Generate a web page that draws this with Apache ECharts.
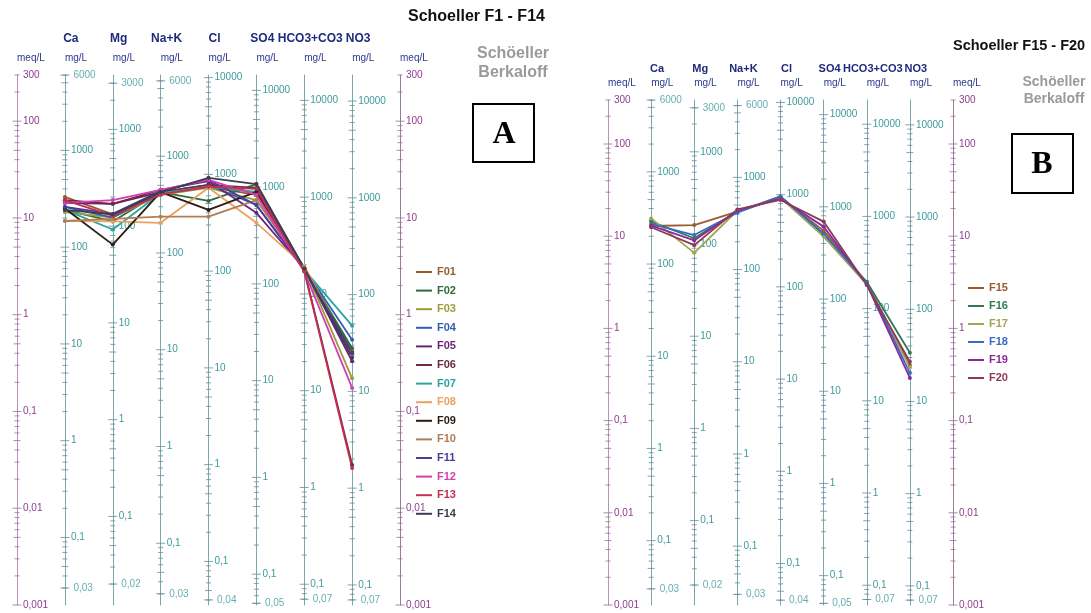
<!DOCTYPE html>
<html><head><meta charset="utf-8">
<script src="https://cdn.jsdelivr.net/npm/echarts@6/dist/echarts.min.js"></script>
<style>html,body{margin:0;padding:0;background:#fff}#c{width:1091px;height:613px}</style>
</head><body><div id="c"></div>
<script>
// ---------- data ----------
const components = ['Ca', 'Mg', 'Na+K', 'Cl', 'SO4', 'HCO3+CO3', 'NO3'];
const eqWeights = [20.04, 12.15, 23.0, 35.45, 48.03, 61.02, 62.0];   // mg per meq
const mgTopLabels = [6000, 3000, 6000, null, null, null, null];
const mgBottomLabels = [0.03, 0.02, 0.03, 0.04, 0.05, 0.07, 0.07];
const meqRange = [0.001, 300];

// values in meq/L, order: Ca, Mg, Na+K, Cl, SO4, HCO3+CO3, NO3
const samplesA = ['F01','F02','F03','F04','F05','F06','F07','F08','F09','F10','F11','F12','F13','F14'];
const F01 = [16.5, 10.9, 17.3, 21.0, 17.3, 3.0, 0.42];
const F02 = [12.1, 9.2, 18.5, 15.0, 22.4, 3.0, 0.45];
const F03 = [11.5, 10.1, 17.3, 20.5, 15.3, 3.1, 0.22];
const F04 = [13.0, 10.1, 18.5, 22.0, 13.6, 3.0, 0.55];
const F05 = [14.3, 14.0, 19.5, 24.0, 11.3, 3.0, 0.33];
const F06 = [15.3, 14.0, 18.5, 22.0, 20.4, 2.9, 0.028];
const F07 = [12.1, 7.6, 18.0, 21.0, 18.6, 2.9, 0.77];
const F08 = [9.3, 9.2, 8.9, 20.5, 8.9, 3.2, 0.38];
const F09 = [12.5, 5.3, 18.5, 12.1, 18.6, 3.0, 0.40];
const F10 = [9.3, 9.8, 10.3, 10.3, 15.3, 3.1, 0.38];
const F11 = [13.0, 11.0, 19.0, 24.7, 13.6, 2.9, 0.40];
const F12 = [14.3, 15.3, 19.5, 24.7, 17.3, 2.8, 0.175];
const F13 = [15.3, 10.5, 17.5, 21.0, 20.0, 2.8, 0.026];
const F14 = [12.1, 10.9, 18.5, 26.0, 22.4, 3.0, 0.36];
const valuesA = [F01, F02, F03, F04, F05, F06, F07, F08, F09, F10, F11, F12, F13, F14];

const samplesB = ['F15','F16','F17','F18','F19','F20'];
const F15 = [12.9, 13.2, 18.5, 26.0, 11.5, 3.1, 0.40];
const F16 = [14.4, 9.5, 18.5, 27.0, 10.5, 3.2, 0.545];
const F17 = [15.6, 6.6, 19.0, 26.0, 9.9, 3.0, 0.38];
const F18 = [13.6, 10.3, 18.0, 27.0, 10.7, 3.1, 0.33];
const F19 = [13.0, 9.0, 19.0, 25.5, 12.7, 3.0, 0.29];
const F20 = [12.5, 8.0, 19.5, 24.7, 14.4, 2.95, 0.435];
const valuesB = [F15, F16, F17, F18, F19, F20];

// ---------- styles ----------
const colorsA = ['#9a5b2e','#2f6b3f','#9c9c3c','#2f5fb3','#6c237c','#6e2c3c','#2aa3a3','#eba25f','#2b1d14','#b37c52','#4b3b9b','#d23fb0','#c22f52','#3c3c52'];
const colorsB = ['#9a5b2e','#2f7a4f','#a3a352','#3a6ac4','#8a2a9a','#8a3a5a'];
const FONT = '"Liberation Sans", Arial, Helvetica, sans-serif';
const MEQ_LABEL = '#8e3d8e', MEQ_LINE = '#b893b8', MEQ_TICK = '#957295';
const MG_LABEL = '#3d9a9c', MG_LINE = '#7ea7ad', MG_TICK = '#628e95';
const NAVY = '#1f2a7c';

function fmt(v) { return String(+(+v).toPrecision(6)).replace('.', ','); }

const option = { animation: false, backgroundColor: '#fff', grid: [], xAxis: [], yAxis: [], series: [], legend: [], graphic: [] };

function tickData(col, lo, hi) {
  const out = [];
  for (let k = Math.floor(Math.log10(lo)); k <= Math.ceil(Math.log10(hi)); k++) {
    for (let m = 1; m <= 9; m++) {
      const v = +(m * Math.pow(10, k)).toPrecision(6);
      if (v >= lo * 0.999 && v <= hi * 1.001) {
        out.push({ value: [col, v], symbolSize: m === 1 ? [9, 1] : (m === 5 ? [7, 1] : [5, 1]) });
      }
    }
  }
  return out;
}

function buildPanel(p) {
  const g = option.grid.length;
  option.grid.push({ left: p.left, top: p.top, width: p.width, height: p.height, containLabel: false, outerBoundsMode: 'none' });
  const x0 = option.xAxis.length;
  option.xAxis.push({ gridIndex: g, type: 'value', min: 0, max: 8, show: false });
  option.xAxis.push({ gridIndex: g, type: 'value', min: 0, max: 8, interval: 1, position: 'top', offset: p.nameOffset,
    axisLine: { show: false, onZero: false }, axisTick: { show: false }, splitLine: { show: false },
    axisLabel: { margin: 0, fontFamily: FONT, fontWeight: 'bold', fontSize: p.nameFont, color: NAVY, align: 'center', padding: [0, 0, 0, 12],
      formatter: v => (v >= 1 && v <= 7) ? components[v - 1] : '' } });
  option.xAxis.push({ gridIndex: g, type: 'value', min: 0, max: 8, interval: 1, position: 'top', offset: p.unitOffset,
    axisLine: { show: false, onZero: false }, axisTick: { show: false }, splitLine: { show: false },
    axisLabel: { margin: 0, fontFamily: FONT, fontSize: 10, color: '#2d3a8c', align: 'left', padding: [0, 0, 0, 0],
      formatter: v => (v === 0 || v === 8) ? 'meq/L' : 'mg/L' } });

  const y0 = option.yAxis.length;
  const meqLabel = { fontFamily: FONT, fontSize: 10, color: MEQ_LABEL, formatter: fmt, showMinLabel: true, showMaxLabel: true };
  option.yAxis.push({ gridIndex: g, type: 'log', min: meqRange[0], max: meqRange[1], position: 'left',
    axisLine: { show: true, onZero: false, lineStyle: { color: MEQ_LINE } }, axisTick: { show: false }, splitLine: { show: false },
    axisLabel: Object.assign({ inside: true, margin: 6 }, meqLabel) });
  option.yAxis.push({ gridIndex: g, type: 'log', min: meqRange[0], max: meqRange[1], position: 'right',
    axisLine: { show: true, onZero: false, lineStyle: { color: '#9c7c9c' } }, axisTick: { show: false }, splitLine: { show: false },
    axisLabel: Object.assign({ inside: false, margin: 6 }, meqLabel) });
  // meq ticks
  [0, 8].forEach((col, j) => {
    option.series.push({ type: 'scatter', name: 'meqtick' + g + j, xAxisIndex: x0, yAxisIndex: y0 + j, silent: true, z: 1,
      symbol: 'rect', itemStyle: { color: MEQ_TICK }, data: tickData(col, meqRange[0], meqRange[1]) });
  });
  // mg/L axes
  components.forEach((c, i) => {
    const lo = meqRange[0] * eqWeights[i], hi = meqRange[1] * eqWeights[i];
    const yi = option.yAxis.length;
    option.yAxis.push({ gridIndex: g, type: 'log', min: lo, max: hi, position: 'left', offset: -(i + 1) * p.width / 8,
      axisLine: { show: true, onZero: false, lineStyle: { color: MG_LINE } }, axisTick: { show: false }, splitLine: { show: false },
      axisLabel: { inside: true, margin: 6, fontFamily: FONT, fontSize: 10, color: MG_LABEL, formatter: fmt, showMinLabel: false, showMaxLabel: false } });
    option.series.push({ type: 'scatter', name: 'mgtick' + g + i, xAxisIndex: x0, yAxisIndex: yi, silent: true, z: 1,
      symbol: 'rect', itemStyle: { color: MG_TICK }, data: tickData(i + 1, lo, hi) });
    const extra = [mgTopLabels[i], mgBottomLabels[i]].filter(v => v != null).map(v => [i + 1, v]);
    option.series.push({ type: 'scatter', name: 'mglab' + g + i, xAxisIndex: x0, yAxisIndex: yi, silent: true, z: 1,
      symbol: 'rect', symbolSize: [9, 1], itemStyle: { color: MG_TICK },
      label: { show: true, position: 'right', distance: 4, fontFamily: FONT, fontSize: 10, color: MG_LABEL, formatter: q => fmt(q.value[1]) },
      data: extra });
  });
  // samples
  p.samples.forEach((name, s) => {
    option.series.push({ type: 'line', name: name, xAxisIndex: x0, yAxisIndex: y0, z: 5,
      symbol: 'circle', symbolSize: 4, showSymbol: true,
      lineStyle: { width: 1.8, color: p.colors[s] }, itemStyle: { color: p.colors[s] },
      emphasis: { disabled: true },
      data: p.values[s].map((v, i) => [i + 1, v]) });
  });
  option.legend.push({ orient: 'vertical', left: p.legendLeft, top: p.legendTop, icon: 'rect', itemWidth: 16, itemHeight: 2,
    itemGap: p.legendGap, selectedMode: false, padding: 0,
    textStyle: { fontFamily: FONT, fontSize: 11, fontWeight: 'bold', lineHeight: 14 },
    data: p.samples.map((n, s) => ({ name: n, textStyle: { color: p.colors[s] } })) });
}

buildPanel({ left: 17, top: 75, width: 383, height: 530, nameOffset: 30, unitOffset: 12, nameFont: 12,
  samples: samplesA, values: valuesA, colors: colorsA, legendLeft: 416, legendTop: 265, legendGap: 4.6 });
buildPanel({ left: 608, top: 100, width: 345, height: 505, nameOffset: 26, unitOffset: 12, nameFont: 11,
  samples: samplesB, values: valuesB, colors: colorsB, legendLeft: 968, legendTop: 281, legendGap: 4 });

function txt(t, x, y, font, color, align) {
  return { type: 'text', x: x, y: y, silent: true, z: 10,
    style: { text: t, font: font, fill: color, align: align || 'left', verticalAlign: 'middle', textAlign: align || 'left', textVerticalAlign: 'middle' } };
}
option.graphic = [
  txt('Schoeller F1 - F14', 408, 17, 'bold 16px ' + FONT, '#111'),
  txt('Schöeller', 513, 54, 'bold 16px ' + FONT, '#9a9a9a', 'center'),
  txt('Berkaloff', 513, 73, 'bold 16px ' + FONT, '#9a9a9a', 'center'),
  { type: 'rect', silent: true, shape: { x: 473, y: 104, width: 61, height: 58 }, style: { fill: '#fff', stroke: '#000', lineWidth: 2 } },
  txt('A', 504, 135, 'bold 32px "Liberation Serif", "DejaVu Serif", serif', '#000', 'center'),
  txt('Schoeller F15 - F20', 953, 46, 'bold 14.5px ' + FONT, '#111'),
  txt('Schöeller', 1054, 82, 'bold 14px ' + FONT, '#9a9a9a', 'center'),
  txt('Berkaloff', 1054, 99, 'bold 14px ' + FONT, '#9a9a9a', 'center'),
  { type: 'rect', silent: true, shape: { x: 1012, y: 134, width: 61, height: 59 }, style: { fill: '#fff', stroke: '#000', lineWidth: 2 } },
  txt('B', 1042, 165, 'bold 32px "Liberation Serif", "DejaVu Serif", serif', '#000', 'center')
];

const chart = echarts.init(document.getElementById('c'), null, { renderer: 'canvas' });
chart.setOption(option);
</script></body></html>
